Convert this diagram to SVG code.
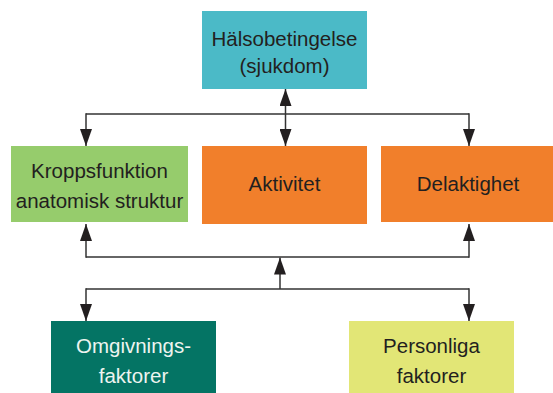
<svg xmlns="http://www.w3.org/2000/svg" width="553" height="393" viewBox="0 0 553 393">
<style>
  text { font-family: "Liberation Sans", Arial, sans-serif; font-size: 20.5px; fill: #231F20; text-anchor: middle; }
  .light { fill: #EEF4F0; }
  .conn line { stroke: #333333; stroke-width: 1.5; fill: none; }
</style>
<defs>
  <marker id="arrow" viewBox="0 0 17 12" refX="17" refY="6" markerWidth="17" markerHeight="12" markerUnits="userSpaceOnUse" orient="auto-start-reverse">
    <path d="M0,0 L17,6 L0,12 Z" fill="#231F20"/>
  </marker>
</defs>
<rect width="553" height="393" fill="#FFFFFF"/>

<g id="connectors" class="conn">
  <line x1="285.5" y1="89" x2="285.5" y2="146" marker-start="url(#arrow)" marker-end="url(#arrow)"/>
  <line x1="86" y1="114" x2="469" y2="114"/>
  <line x1="86" y1="113.25" x2="86" y2="146" marker-end="url(#arrow)"/>
  <line x1="469" y1="113.25" x2="469" y2="146" marker-end="url(#arrow)"/>
  <line x1="86" y1="257" x2="469" y2="257"/>
  <line x1="86" y1="257.75" x2="86" y2="224" marker-end="url(#arrow)"/>
  <line x1="469" y1="257.75" x2="469" y2="224" marker-end="url(#arrow)"/>
  <line x1="280" y1="289" x2="280" y2="257.5" marker-end="url(#arrow)"/>
  <line x1="86" y1="289" x2="469" y2="289"/>
  <line x1="86" y1="288.25" x2="86" y2="321" marker-end="url(#arrow)"/>
  <line x1="469" y1="288.25" x2="469" y2="321" marker-end="url(#arrow)"/>
</g>

<g id="halsobetingelse">
  <rect x="202" y="11" width="165" height="78" fill="#4BBAC7"/>
  <text x="284.5" y="46">Hälsobetingelse</text>
  <text x="284.5" y="73">(sjukdom)</text>
</g>

<g id="kroppsfunktion">
  <rect x="11" y="146" width="177" height="76" fill="#96CC6C"/>
  <text x="99.5" y="177.5">Kroppsfunktion</text>
  <text x="99.5" y="208">anatomisk struktur</text>
</g>

<g id="aktivitet">
  <rect x="202" y="146" width="165" height="78" fill="#F17F2B"/>
  <text x="284.5" y="191">Aktivitet</text>
</g>

<g id="delaktighet">
  <rect x="381" y="146" width="172" height="76" fill="#F17F2B"/>
  <text x="468" y="191">Delaktighet</text>
</g>

<g id="omgivningsfaktorer">
  <rect x="51" y="321" width="165" height="72" fill="#047464"/>
  <text class="light" x="133.5" y="353">Omgivnings-</text>
  <text class="light" x="133.5" y="383">faktorer</text>
</g>

<g id="personliga">
  <rect x="349" y="321" width="165" height="72" fill="#E2E676"/>
  <text x="431.5" y="353">Personliga</text>
  <text x="431.5" y="383">faktorer</text>
</g>
</svg>
